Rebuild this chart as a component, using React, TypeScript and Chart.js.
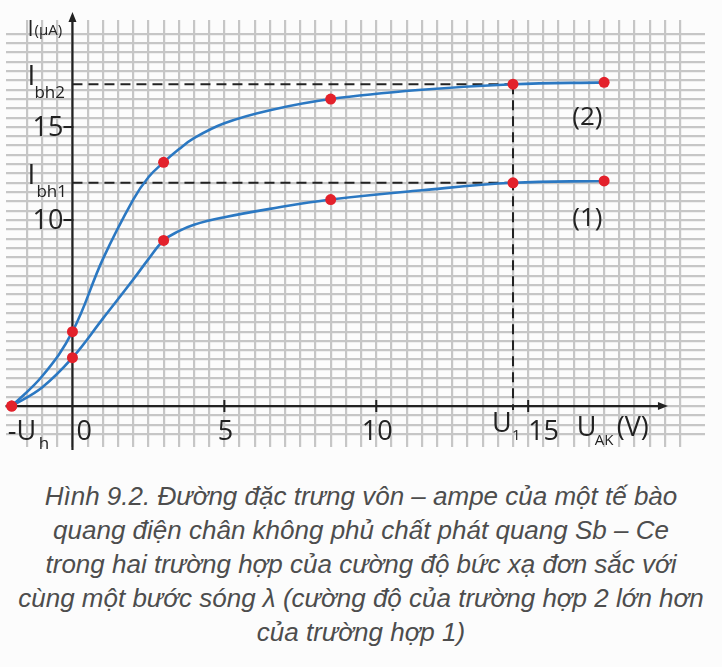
import React, { useEffect, useRef } from "react";
import { Chart, registerables } from "chart.js";

Chart.register(...registerables);

// ---- data ----
const curveX = [-2, -1, 0, 1, 2, 2.5, 3, 3.5, 4, 5, 6.5, 8.5, 11.5, 14.5, 17.5];
const curve2 = [0, 1.6, 4.0, 7.9, 11.1, 12.3, 13.1, 13.8, 14.4, 15.2, 15.9, 16.5, 17.0, 17.3, 17.4];
const curve1 = [0, 1.0, 2.6, 4.7, 6.8, 7.9, 8.9, 9.4, 9.75, 10.15, 10.6, 11.1, 11.6, 12.0, 12.1];
const markedX = [-2, 0, 3, 8.5, 14.5, 17.5];

const xTicks = [5, 10, 15];
const yTicks = [10, 15];
const uh = -2;
const u1 = 14.5;
const ibh1 = 12.0;
const ibh2 = 17.3;

const captionLines = [
  "Hình 9.2. Đường đặc trưng vôn – ampe của một tế bào",
  "quang điện chân không phủ chất phát quang Sb – Ce",
  "trong hai trường hợp của cường độ bức xạ đơn sắc với",
  "cùng một bước sóng λ (cường độ của trường hợp 2 lớn hơn",
  "của trường hợp 1)",
];

const FONT = '"Open Sans", "Noto Sans", sans-serif';
const BLUE = "#2b78c2";
const RED = "#e3212b";
const INK = "#222222";

const halfStepOnly = (scale: any) => {
  scale.ticks = scale.ticks.filter(
    (t: any) => Math.abs(t.value * 2 - Math.round(t.value * 2)) < 1e-6
  );
};

const overlayPlugin = {
  id: "overlay",
  beforeDatasetsDraw(chart: any) {
    const ctx = chart.ctx;
    const xs = chart.scales.x;
    const ys = chart.scales.y;
    const ca = chart.chartArea;
    const X = (v: number) => xs.getPixelForValue(v);
    const Y = (v: number) => ys.getPixelForValue(v);
    const x0 = X(0);
    const y0 = Y(0);
    ctx.save();

    // dashed guide lines
    ctx.strokeStyle = INK;
    ctx.lineWidth = 2;
    ctx.setLineDash([10, 6]);
    ctx.beginPath();
    ctx.moveTo(x0, Y(ibh2));
    ctx.lineTo(X(u1), Y(ibh2));
    ctx.moveTo(x0, Y(ibh1));
    ctx.lineTo(X(u1), Y(ibh1));
    ctx.moveTo(X(u1), Y(ibh2));
    ctx.lineTo(X(u1), y0 + 4);
    ctx.stroke();
    ctx.setLineDash([]);

    // axes
    ctx.lineWidth = 2.2;
    ctx.strokeStyle = INK;
    ctx.fillStyle = INK;
    const xEnd = X(19.6);
    const yTop = 12;
    ctx.beginPath();
    ctx.moveTo(ca.left, y0);
    ctx.lineTo(xEnd - 6, y0);
    ctx.moveTo(x0, ca.bottom + 3);
    ctx.lineTo(x0, yTop + 6);
    ctx.stroke();
    // arrowheads
    ctx.beginPath();
    ctx.moveTo(xEnd, y0);
    ctx.lineTo(xEnd - 10, y0 - 4);
    ctx.lineTo(xEnd - 10, y0 + 4);
    ctx.closePath();
    ctx.fill();
    ctx.beginPath();
    ctx.moveTo(x0, yTop);
    ctx.lineTo(x0 - 4, yTop + 10);
    ctx.lineTo(x0 + 4, yTop + 10);
    ctx.closePath();
    ctx.fill();

    // tick marks
    ctx.lineWidth = 2;
    ctx.beginPath();
    xTicks.forEach((v) => {
      ctx.moveTo(X(v), y0 - 6);
      ctx.lineTo(X(v), y0 + 6);
    });
    yTicks.forEach((v) => {
      ctx.moveTo(x0 - 9, Y(v));
      ctx.lineTo(x0 + 1, Y(v));
    });
    ctx.stroke();

    // tick labels
    ctx.fillStyle = INK;
    ctx.font = `27px ${FONT}`;
    ctx.textBaseline = "middle";
    ctx.textAlign = "right";
    yTicks.forEach((v) => ctx.fillText(String(v), x0 - 9, Y(v) + 1));
    ctx.textAlign = "center";
    xTicks.forEach((v) => {
      if (v === 15) {
        ctx.textAlign = "left";
        ctx.fillText(String(v), X(v), y0 + 26);
        ctx.textAlign = "center";
      } else {
        ctx.fillText(String(v), X(v) + 1, y0 + 26);
      }
    });
    ctx.textAlign = "left";
    ctx.fillText("0", x0 + 4, y0 + 26);

    // -Uh
    ctx.fillText("-U", X(uh) - 4, y0 + 26);
    ctx.font = `17px ${FONT}`;
    ctx.fillText("h", X(uh) + 27, y0 + 38);

    // U1
    ctx.font = `27px ${FONT}`;
    ctx.fillText("U", X(u1) - 21, y0 + 18);
    ctx.font = `15px ${FONT}`;
    ctx.fillText("1", X(u1) - 1, y0 + 30);

    // U_AK (V)
    ctx.font = `27px ${FONT}`;
    ctx.fillText("U", X(16.6), y0 + 22);
    ctx.font = `15px ${FONT}`;
    ctx.fillText("AK", X(16.6) + 18, y0 + 35);
    ctx.font = `27px ${FONT}`;
    ctx.fillText("(V)", X(16.6) + 40, y0 + 22);

    // I (µA)
    ctx.font = `22px ${FONT}`;
    ctx.fillText("I", x0 - 45, 30);
    ctx.font = `15px ${FONT}`;
    ctx.fillText("(µA)", x0 - 38, 31);

    // Ibh2, Ibh1
    ctx.font = `28px ${FONT}`;
    ctx.fillText("I", x0 - 45, Y(ibh2) - 7);
    ctx.fillText("I", x0 - 45, Y(ibh1) - 7);
    ctx.font = `17px ${FONT}`;
    ctx.fillText("bh2", x0 - 38, Y(ibh2) + 9);
    ctx.fillText("bh1", x0 - 36, Y(ibh1) + 9);

    // curve labels
    ctx.font = `26px ${FONT}`;
    ctx.textAlign = "center";
    ctx.fillText("(2)", X(16.95), Y(15.5));
    ctx.fillText("(1)", X(16.95), Y(10.05));

    ctx.restore();
  },
};

export default function App() {
  const canvasRef = useRef<HTMLCanvasElement | null>(null);

  useEffect(() => {
    if (!canvasRef.current) return;
    const pr = (ctx: any) => (markedX.includes(curveX[ctx.dataIndex]) ? 5.5 : 0);
    const common = {
      borderColor: BLUE,
      borderWidth: 2.6,
      tension: 0.4,
      pointRadius: pr,
      pointHoverRadius: pr,
      pointBackgroundColor: RED,
      pointBorderWidth: 0,
      clip: false,
    };
    const chart = new Chart(canvasRef.current, {
      type: "line",
      data: {
        datasets: [
          { label: "(2)", data: curveX.map((x, i) => ({ x, y: curve2[i] })), ...common },
          { label: "(1)", data: curveX.map((x, i) => ({ x, y: curve1[i] })), ...common },
        ],
      },
      options: {
        responsive: false,
        animation: false,
        layout: { padding: { left: 5, right: 17, top: 20, bottom: 13 } },
        plugins: { legend: { display: false }, tooltip: { enabled: false } },
        scales: {
          x: {
            type: "linear",
            min: -2.204,
            max: 20.82,
            ticks: { display: false, stepSize: 0.5 },
            afterBuildTicks: halfStepOnly,
            grid: { color: "#c6c6c6", lineWidth: 2.2, drawTicks: false },
            border: { display: false },
          },
          y: {
            type: "linear",
            min: -2.2,
            max: 20.75,
            ticks: { display: false, stepSize: 0.5 },
            afterBuildTicks: halfStepOnly,
            grid: { color: "#c6c6c6", lineWidth: 2.2, drawTicks: false },
            border: { display: false },
          },
        },
      },
      plugins: [overlayPlugin],
    });
    return () => chart.destroy();
  }, []);

  return (
    <div
      style={{
        position: "absolute",
        left: 0,
        top: 0,
        width: 722,
        height: 667,
        background: "#fcfcfc",
        overflow: "hidden",
      }}
    >
      <canvas
        ref={canvasRef}
        width={722}
        height={460}
        style={{ position: "absolute", left: 0, top: 0, width: 722, height: 460 }}
      />
      <div
        style={{
          position: "absolute",
          left: 0,
          top: 479,
          width: 722,
          textAlign: "center",
          fontFamily: '"Liberation Sans", Arial, sans-serif',
          fontStyle: "italic",
          fontSize: 26,
          lineHeight: "34px",
          color: "#4d4d4d",
        }}
      >
        {captionLines.map((l, i) => (
          <div key={i} style={{ whiteSpace: "nowrap" }}>
            {l}
          </div>
        ))}
      </div>
    </div>
  );
}
